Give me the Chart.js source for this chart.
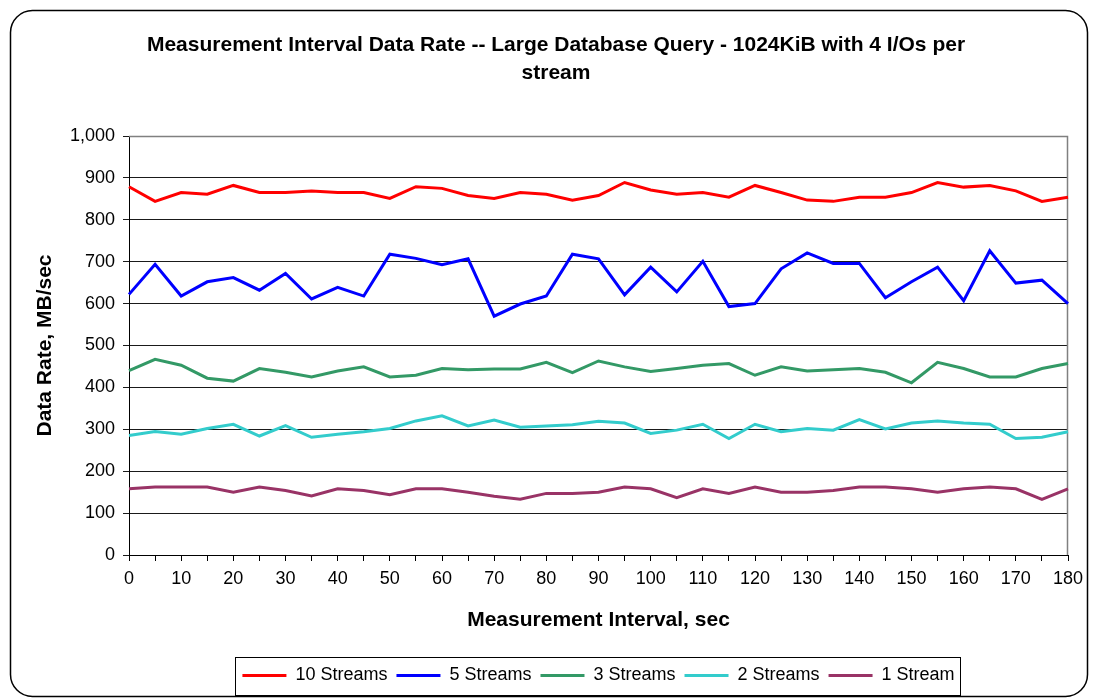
<!DOCTYPE html>
<html>
<head>
<meta charset="utf-8">
<script src="https://cdn.jsdelivr.net/npm/chart.js@4/dist/chart.umd.min.js"></script>
<style>
  html, body { margin: 0; padding: 0; background: #fff; }
  #wrap { width: 1093px; height: 698px; }
</style>
</head>
<body>
<div id="wrap"><canvas id="chart" width="1093" height="698"></canvas></div>
<script>
// Measurement interval (seconds) for each sample
const intervals = [0, 5, 10, 15, 20, 25, 30, 35, 40, 45, 50, 55, 60, 65, 70, 75, 80, 85, 90,
  95, 100, 105, 110, 115, 120, 125, 130, 135, 140, 145, 150, 155, 160, 165, 170, 175, 180];

// Data rate in MB/sec per stream count
const tenStreams = [879, 844, 865, 861, 882, 865, 865, 869, 865, 865, 851, 879, 875, 858, 851, 865, 861, 847, 858,
  889, 871, 861, 865, 854, 882, 865, 847, 844, 854, 854, 865, 889, 878, 882, 869, 844, 854];
const fiveStreams = [622, 694, 618, 652, 662, 632, 672, 611, 639, 618, 718, 708, 693, 707, 570, 599, 618, 718, 707,
  621, 687, 628, 701, 593, 600, 683, 721, 696, 696, 614, 652, 687, 607, 726, 649, 656, 600];
const threeStreams = [440, 467, 453, 422, 415, 445, 436, 425, 439, 449, 425, 429, 445, 442, 444, 444, 460, 435, 463,
  449, 438, 445, 453, 457, 429, 449, 439, 442, 445, 436, 411, 460, 445, 425, 425, 445, 457];
const twoStreams = [285, 295, 288, 302, 312, 284, 309, 281, 288, 294, 302, 320, 332, 308, 322, 305, 308, 311, 319,
  315, 290, 298, 312, 278, 312, 294, 302, 298, 323, 301, 315, 320, 315, 312, 278, 281, 294];
const oneStream = [158, 162, 162, 162, 150, 162, 154, 141, 158, 154, 144, 158, 158, 150, 140, 133, 147, 147, 150,
  162, 158, 137, 158, 147, 162, 150, 150, 154, 162, 162, 158, 150, 158, 162, 158, 133, 158];

const seriesNames = ['10 Streams', '5 Streams', '3 Streams', '2 Streams', '1 Stream'];
const seriesColors = ['#FF0000', '#0000FF', '#339966', '#33CCCC', '#993366'];
const seriesValues = [tenStreams, fiveStreams, threeStreams, twoStreams, oneStream];

const titleLines = ['Measurement Interval Data Rate -- Large Database Query - 1024KiB with 4 I/Os per', 'stream'];
const xTitle = 'Measurement Interval, sec';
const yTitle = 'Data Rate, MB/sec';

const FONT = "'Liberation Sans', Arial, Helvetica, sans-serif";
Chart.defaults.font.family = FONT;
Chart.defaults.color = '#000';

// Rounded outer frame behind everything
const frame = {
  id: 'frame',
  beforeDraw(chart) {
    const ctx = chart.ctx;
    ctx.save();
    ctx.fillStyle = '#fff';
    ctx.fillRect(0, 0, chart.width, chart.height);
    ctx.strokeStyle = '#000';
    ctx.lineWidth = 1.5;
    ctx.beginPath();
    ctx.roundRect(10.5, 10.5, 1077, 686, 22);
    ctx.stroke();
    ctx.restore();
  }
};

// Grey plot-area outline (top/right), axes lines are drawn by the scales
const plotBorder = {
  id: 'plotBorder',
  beforeDatasetsDraw(chart) {
    const { ctx, chartArea: a } = chart;
    ctx.save();
    ctx.strokeStyle = '#808080';
    ctx.lineWidth = 1.5;
    ctx.beginPath();
    ctx.moveTo(a.left, a.top + 0.5);
    ctx.lineTo(a.right - 0.5, a.top + 0.5);
    ctx.lineTo(a.right - 0.5, a.bottom);
    ctx.stroke();
    ctx.restore();
  }
};

// Box around the legend entries
const legendBox = {
  id: 'legendBox',
  afterDraw(chart) {
    const lg = chart.legend;
    if (!lg || !lg.legendHitBoxes || !lg.legendHitBoxes.length) return;
    const hb = lg.legendHitBoxes;
    const first = hb[0], last = hb[hb.length - 1];
    const cy = first.top + first.height / 2;
    const left = Math.round(first.left - 7) + 0.5;
    const right = Math.round(last.left + last.width + 5) + 0.5;
    const top = Math.round(cy - 19) + 0.5;
    const bottom = Math.round(cy + 19) + 0.5;
    const ctx = chart.ctx;
    ctx.save();
    ctx.strokeStyle = '#000';
    ctx.lineWidth = 1;
    ctx.strokeRect(left, top, right - left, bottom - top);
    ctx.restore();
  }
};

const datasets = seriesNames.map((name, i) => ({
  label: name,
  data: seriesValues[i],
  borderColor: seriesColors[i],
  backgroundColor: seriesColors[i],
  borderWidth: 3,
  pointRadius: 0,
  pointHoverRadius: 0,
  tension: 0,
  fill: false
}));

new Chart(document.getElementById('chart'), {
  type: 'line',
  data: { labels: intervals.map(String), datasets },
  plugins: [frame, plotBorder, legendBox],
  options: {
    responsive: false,
    animation: false,
    events: [],
    layout: { padding: { left: 44, right: 25, top: 0, bottom: 3.5 } },
    plugins: {
      title: {
        display: true,
        text: titleLines,
        color: '#000',
        font: { size: 21, weight: 'bold', lineHeight: 28 / 21 },
        padding: { top: 31, bottom: 49 }
      },
      legend: {
        position: 'bottom',
        fullSize: false,
        labels: {
          usePointStyle: true,
          pointStyle: 'line',
          pointStyleWidth: 44,
          boxHeight: 18,
          padding: 9,
          color: '#000',
          font: { size: 18 }
        }
      },
      tooltip: { enabled: false }
    },
    scales: {
      x: {
        type: 'category',
        offset: false,
        afterFit(scale) { scale.height = 102.5; },
        border: { display: true, color: '#000', width: 1 },
        grid: { display: true, drawOnChartArea: false, drawTicks: true, tickLength: 6, color: '#000' },
        ticks: {
          autoSkip: false,
          maxRotation: 0,
          minRotation: 0,
          padding: 7,
          color: '#000',
          font: { size: 18 },
          callback(value, index) { return index % 2 === 0 ? this.getLabelForValue(value) : ''; }
        },
        title: {
          display: true,
          text: xTitle,
          color: '#000',
          font: { size: 21, weight: 'bold', lineHeight: 1.2 },
          padding: { top: 0, bottom: 25 }
        }
      },
      y: {
        min: 0,
        max: 1000,
        afterFit(scale) { scale.width = 85; },
        border: { display: true, color: '#000', width: 1 },
        grid: { color: '#1a1a1a', lineWidth: 1, tickLength: 6, drawTicks: true },
        ticks: {
          stepSize: 100,
          padding: 8,
          color: '#000',
          font: { size: 18 },
          callback(v) { return Number(v).toLocaleString('en-US'); }
        },
        title: {
          display: true,
          text: yTitle,
          color: '#000',
          font: { size: 21, weight: 'bold', lineHeight: 1.2 },
          padding: { top: -11, bottom: 0 }
        }
      }
    }
  }
});
</script>
</body>
</html>
